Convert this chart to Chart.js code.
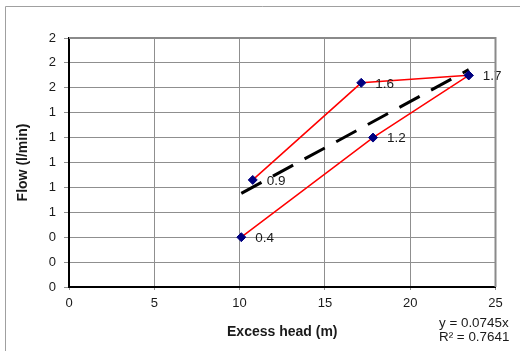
<!DOCTYPE html>
<html>
<head>
<meta charset="utf-8">
<script src="https://cdn.jsdelivr.net/npm/chart.js@4.4.1/dist/chart.umd.min.js"></script>
<style>
  html, body { margin: 0; padding: 0; background: #ffffff; }
  #wrap { width: 520px; height: 351px; position: relative; }
</style>
</head>
<body>
<div id="wrap"><canvas id="chart" width="520" height="351"></canvas></div>
<script>
// Excess head (m) vs flow (l/min), two measurement runs plus a linear fit through the origin
const headRunA = [10.77, 17.13, 23.43];
const flowRunA = [0.86, 1.64, 1.70];
const headRunB = [10.10, 17.82, 23.43];
const flowRunB = [0.40, 1.20, 1.70];

const fitSlope = 0.0745;
const fitR2 = 0.7641;

const xTicks = [0, 5, 10, 15, 20, 25];
const yTickStep = 0.2;

const FONT = "'Liberation Sans', Arial, sans-serif";

function toPoints(xs, ys) {
  return xs.map((x, i) => ({ x: x, y: ys[i] }));
}

const allHeads = headRunA.concat(headRunB);
const fitStart = Math.min(...allHeads);
const fitEnd = Math.max(...allHeads);
const fitPoints = [
  { x: fitStart, y: fitSlope * fitStart },
  { x: fitEnd, y: fitSlope * fitEnd }
];

// Value labels beside the markers, and the fit equation under the plot
const annotations = {
  id: 'annotations',
  afterDatasetsDraw(chart) {
    const ctx = chart.ctx;
    ctx.save();
    ctx.font = '13.5px ' + FONT;
    ctx.fillStyle = '#1a1a1a';
    ctx.textAlign = 'left';
    ctx.textBaseline = 'middle';
    const seen = new Set();
    chart.data.datasets.forEach((ds, di) => {
      if (!ds.valueLabels) return;
      chart.getDatasetMeta(di).data.forEach((pt, i) => {
        const v = ds.data[i];
        const key = v.x + ',' + v.y;
        if (seen.has(key)) return;
        seen.add(key);
        ctx.fillText(v.y.toFixed(1), pt.x + 14, pt.y + 1);
      });
    });
    ctx.restore();
  },
  afterDraw(chart) {
    const ctx = chart.ctx;
    const a = chart.chartArea;
    ctx.save();
    // plot frame: top and right edges
    ctx.strokeStyle = '#8a8a8a';
    ctx.lineWidth = 2;
    ctx.beginPath();
    ctx.moveTo(a.left, a.top);
    ctx.lineTo(a.right, a.top);
    ctx.lineTo(a.right, a.bottom);
    ctx.stroke();
    // outer chart frame
    ctx.strokeStyle = '#a0a0a0';
    ctx.lineWidth = 1;
    ctx.beginPath();
    ctx.moveTo(5.5, 351);
    ctx.lineTo(5.5, 6.5);
    ctx.lineTo(520, 6.5);
    ctx.stroke();
    // fit equation
    ctx.font = '13.4px ' + FONT;
    ctx.fillStyle = '#1a1a1a';
    ctx.textAlign = 'left';
    ctx.textBaseline = 'middle';
    ctx.fillText('y = ' + fitSlope + 'x', 439, 323.5);
    ctx.fillText('R\u00B2 = ' + fitR2, 439, 337.5);
    ctx.restore();
  }
};

new Chart(document.getElementById('chart'), {
  type: 'scatter',
  data: {
    datasets: [
      {
        label: 'Run A line',
        data: toPoints(headRunA, flowRunA),
        showLine: true,
        borderColor: '#ff0000',
        borderWidth: 1.5,
        pointRadius: 0,
        order: 3
      },
      {
        label: 'Run B line',
        data: toPoints(headRunB, flowRunB),
        showLine: true,
        borderColor: '#ff0000',
        borderWidth: 1.5,
        pointRadius: 0,
        order: 3
      },
      {
        label: 'Linear fit',
        data: fitPoints,
        showLine: true,
        borderColor: '#000000',
        borderWidth: 3,
        borderDash: [23, 13],
        pointRadius: 0,
        order: 2
      },
      {
        label: 'Run A',
        data: toPoints(headRunA, flowRunA),
        showLine: false,
        pointStyle: 'rectRot',
        pointRadius: 4.5,
        pointBackgroundColor: '#000080',
        pointBorderColor: '#000080',
        pointBorderWidth: 1,
        valueLabels: true,
        order: 1
      },
      {
        label: 'Run B',
        data: toPoints(headRunB, flowRunB),
        showLine: false,
        pointStyle: 'rectRot',
        pointRadius: 4.5,
        pointBackgroundColor: '#000080',
        pointBorderColor: '#000080',
        pointBorderWidth: 1,
        valueLabels: true,
        order: 1
      }
    ]
  },
  options: {
    responsive: false,
    animation: false,
    events: [],
    layout: { padding: { left: 5, top: 38, right: 24.5, bottom: 0 } },
    plugins: {
      legend: { display: false },
      tooltip: { enabled: false }
    },
    scales: {
      x: {
        type: 'linear',
        min: xTicks[0],
        max: xTicks[xTicks.length - 1],
        afterBuildTicks(scale) { scale.ticks = xTicks.map(v => ({ value: v })); },
        afterFit(scale) { scale.height = 64; },
        grid: { color: '#8f8f8f', lineWidth: 1, tickLength: 3, drawTicks: true },
        border: { color: '#000000', width: 2 },
        ticks: { color: '#1a1a1a', font: { family: FONT, size: 13 }, padding: 6, maxRotation: 0 },
        title: {
          display: true,
          text: 'Excess head (m)',
          color: '#1a1a1a',
          font: { family: FONT, size: 14, weight: 'bold' },
          padding: { top: 0, bottom: 10.6 }
        }
      },
      y: {
        type: 'linear',
        min: 0,
        max: 2,
        afterFit(scale) { scale.width = 64; },
        grid: { color: '#8f8f8f', lineWidth: 1, tickLength: 5, tickColor: '#8f8f8f' },
        border: { color: '#000000', width: 2 },
        ticks: {
          stepSize: yTickStep,
          color: '#1a1a1a',
          font: { family: FONT, size: 13 },
          padding: 8,
          callback: v => String(Math.round(v))
        },
        title: {
          display: true,
          text: 'Flow (l/min)',
          color: '#1a1a1a',
          font: { family: FONT, size: 14, weight: 'bold' },
          padding: { top: 9.6, bottom: 0 }
        }
      }
    }
  },
  plugins: [annotations]
});
</script>
</body>
</html>
